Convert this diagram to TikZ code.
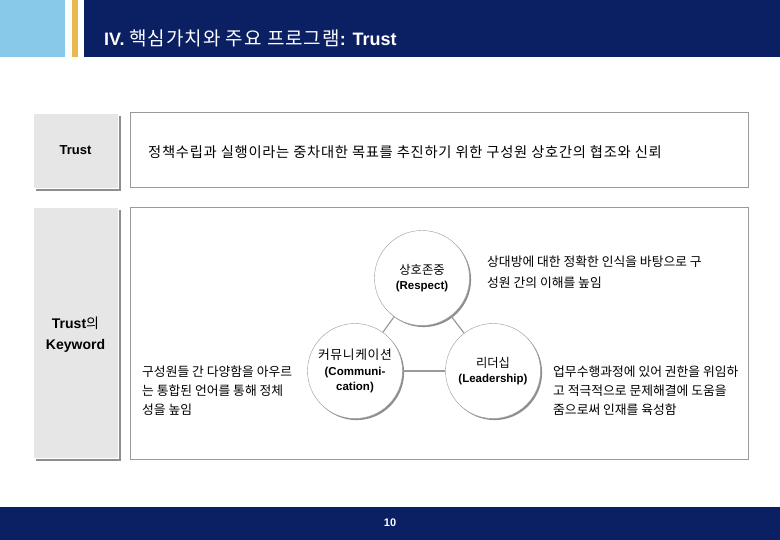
\documentclass[tikz,border=0pt]{standalone}
\usepackage{fontspec}
\setmainfont{Liberation Sans}
\newfontfamily\kr{Noto Sans CJK KR}
\newfontfamily\krwide[LetterSpace=5]{Noto Sans CJK KR}
\usetikzlibrary{positioning,shadows}

\definecolor{navy}{HTML}{0B1F63}
\definecolor{skyblue}{HTML}{88C9EA}
\definecolor{gold}{HTML}{E9B84E}
\definecolor{boxgray}{HTML}{E6E6E6}
\definecolor{shadowgray}{HTML}{8E8E8E}
\definecolor{linegray}{HTML}{9A9A9A}

\tikzset{
  headbox/.style={fill=boxgray, draw=white, inner sep=0pt,
    drop shadow={shadow xshift=3pt, shadow yshift=-3pt, fill=shadowgray, opacity=1}},
  framebox/.style={draw=linegray, line width=1pt, fill=white, inner sep=0pt},
  keycircle/.style={circle, draw=linegray, fill=white, minimum size=95pt, inner sep=0pt,
    align=center, font=\fontsize{11.5}{15.5}\selectfont\bfseries,
    drop shadow={shadow xshift=1.6pt, shadow yshift=-1.6pt, fill=shadowgray, opacity=1}},
  desc/.style={anchor=north west, align=left, inner sep=0pt,
    font=\kr\fontsize{12.8}{19}\selectfont},
}

\begin{document}
\begin{tikzpicture}[x=1pt, y=-1pt]
    \useasboundingbox (0,0) rectangle (780,540);

    % header bar
    \fill[navy] (84,0) rectangle (780,57);
    \fill[skyblue] (0,0) rectangle (65,57);
    \fill[gold] (72,0) rectangle (78,57);
    \node[anchor=west, text=white, inner sep=0pt] (title) at (104,38)
        {\fontsize{18}{20}\selectfont\bfseries IV. {\krwide\mdseries\fontsize{19}{20}\selectfont 핵심가치와 주요 프로그램}: Trust};

    % definition row
    \node[headbox, minimum width=85pt, minimum height=75pt] (trust) at (75.5,150.5)
        {\fontsize{13}{15}\selectfont\bfseries Trust};
    \node[framebox, minimum width=618pt, minimum height=75pt] (trustbox) at (439,150.5) {};
    \node[anchor=west, inner sep=0pt, font=\krwide\fontsize{14.3}{15}\selectfont] (trusttext) at (148,152)
        {정책수립과 실행이라는 중차대한 목표를 추진하기 위한 구성원 상호간의 협조와 신뢰};

    % keyword row
    \node[headbox, minimum width=85pt, minimum height=251pt] (keyword) at (75.5,332.5)
        {};
    \node[align=center, font=\fontsize{14}{21}\selectfont\bfseries] (keytext) at (75.5,335)
        {Trust{\kr\mdseries 의}\\Keyword};
    \node[framebox, minimum width=618pt, minimum height=252pt] (keybox) at (439,333.5) {};

    \node[keycircle] (resp) at (422,278) {{\kr\mdseries\fontsize{12.3}{15.5}\selectfont 상호존중}\\(Respect)};
    \node[keycircle] (comm) at (355,371) {{\krwide\mdseries\fontsize{12.8}{15.5}\selectfont 커뮤니케이션}\\(Communi-\\cation)};
    \node[keycircle] (lead) at (493,371) {{\kr\mdseries\fontsize{12.3}{15.5}\selectfont 리더십}\\(Leadership)};

    \draw[linegray, line width=1.2pt] (resp) -- (comm);
    \draw[linegray, line width=1.2pt] (resp) -- (lead);
    \draw[linegray, line width=1.2pt] (comm) -- (lead);

    \node[desc, font=\kr\fontsize{12.8}{21}\selectfont] (respdesc) at (487,256)
        {상대방에 대한 정확한 인식을 바탕으로 구\\성원 간의 이해를 높임};
    \node[desc] (commdesc) at (142,366)
        {구성원들 간 다양함을 아우르\\는 통합된 언어를 통해 정체\\성을 높임};
    \node[desc] (leaddesc) at (553,366)
        {업무수행과정에 있어 권한을 위임하\\고 적극적으로 문제해결에 도움을\\줌으로써 인재를 육성함};

    % footer bar
    \fill[navy] (0,507) rectangle (780,540);
    \node[text=white, font=\fontsize{11}{12}\selectfont\bfseries] (page) at (390,523) {10};
\end{tikzpicture}
\end{document}
